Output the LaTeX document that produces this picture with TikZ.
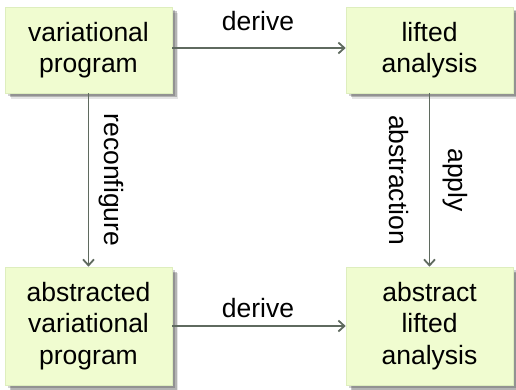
\documentclass[tikz,border=0pt]{standalone}
\usepackage{fontspec}
\setmainfont{Liberation Sans}
\usetikzlibrary{shadows,arrows.meta}
\definecolor{boxfill}{RGB}{240,252,208}
\definecolor{boxline}{RGB}{222,238,190}
\definecolor{arrowc}{RGB}{95,106,95}
\tikzset{
  stepbox/.style={draw=boxline, line width=0.6pt, fill=boxfill, align=center,
    font=\fontsize{26.5}{31.5}\selectfont, inner sep=0pt,
    general shadow={shadow xshift=3pt, shadow yshift=-3pt, fill=black, opacity=0.18},
    general shadow={shadow xshift=4.5pt, shadow yshift=-4.5pt, fill=black, opacity=0.22},
    general shadow={shadow xshift=6pt, shadow yshift=-6pt, fill=black, opacity=0.10}},
  conn/.style={draw=arrowc, line width=1.8pt, -{Straight Barb[length=6pt,width=11pt,line width=1.8pt]}},
  lbl/.style={font=\fontsize{26.5}{31.5}\selectfont, inner sep=0pt}
}
\begin{document}
\begin{tikzpicture}[x=1pt,y=-1pt]
\useasboundingbox (0,0) rectangle (516,390);
\node[stepbox, minimum width=167pt, minimum height=86pt] (A) at (88.5,50) {variational\\program};
\node[stepbox, minimum width=167pt, minimum height=86pt] (B) at (429.5,50) {lifted\\analysis};
\node[stepbox, minimum width=167pt, minimum height=118pt] (C) at (88.5,326) {abstracted\\variational\\program};
\node[stepbox, minimum width=167pt, minimum height=118pt] (D) at (429.5,326) {abstract\\lifted\\analysis};
\draw[conn] (A.east |- 0,48) -- (B.west |- 0,48);
\draw[conn] (C.east) -- (D.west);
\draw[conn] (A.south) -- (C.north);
\draw[conn] (B.south) -- (D.north);
\node[lbl] (l1) at (258,21) {derive};
\node[lbl] (l2) at (258,308) {derive};
\node[lbl, rotate=-90] (l3) at (111,180) {reconfigure};
\node[lbl, rotate=-90] (l4) at (399,180) {abstraction};
\node[lbl, rotate=-90] (l5) at (455,180) {apply};
\end{tikzpicture}
\end{document}
